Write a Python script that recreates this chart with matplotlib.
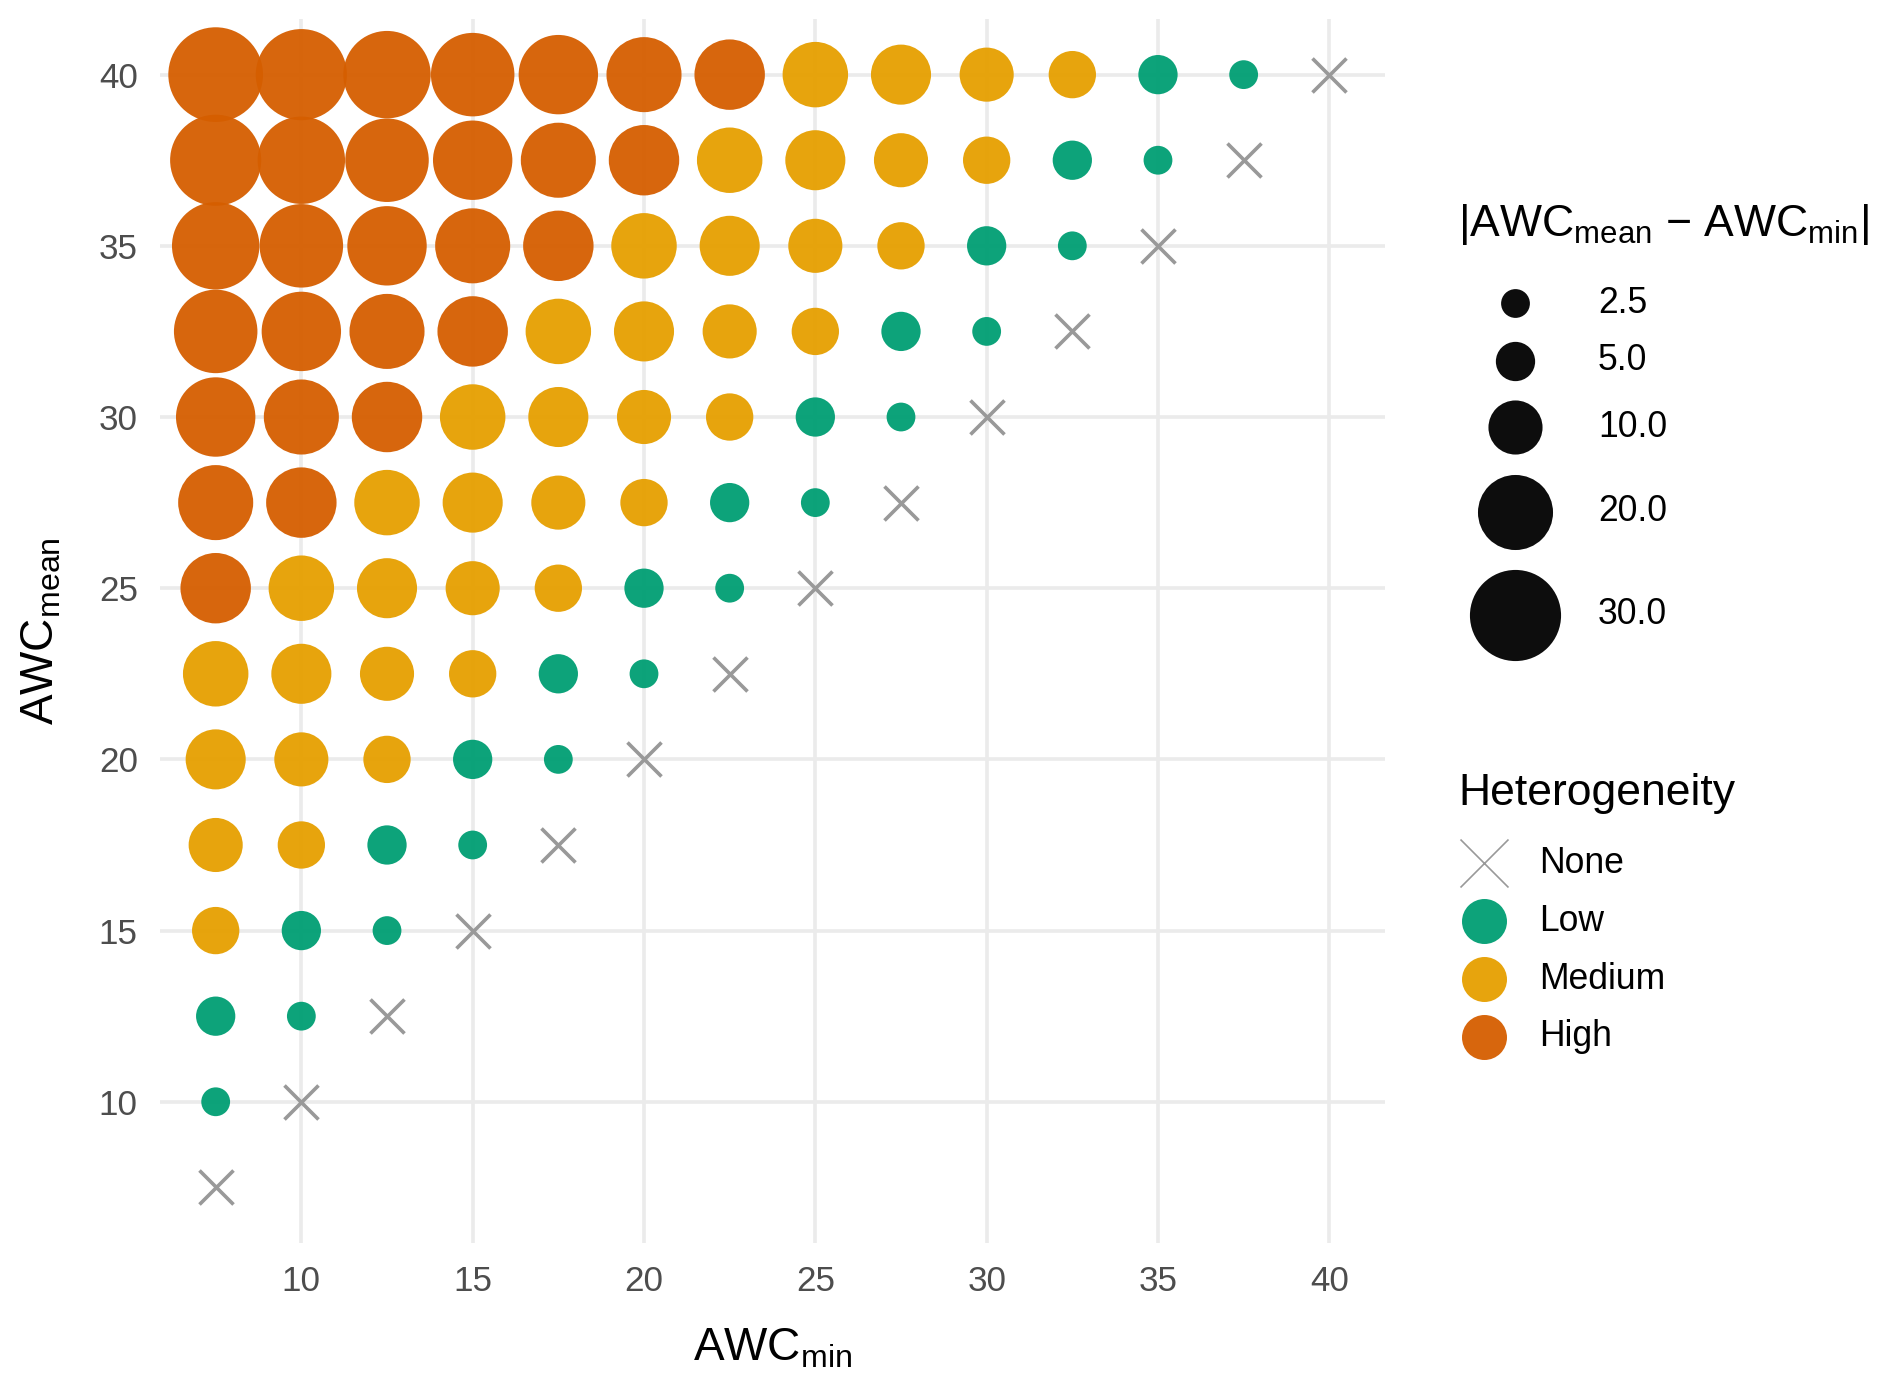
import numpy as np
import matplotlib
matplotlib.use("Agg")
from matplotlib import pyplot as plt

plt.rcParams['font.family'] = ['Liberation Sans', 'DejaVu Sans']
plt.rcParams['mathtext.fontset'] = 'custom'
plt.rcParams['mathtext.rm'] = 'Liberation Sans'
plt.rcParams['mathtext.it'] = 'Liberation Sans:italic'

# AWC levels used on both axes
awc_levels = [7.5, 10.0, 12.5, 15.0, 17.5, 20.0, 22.5, 25.0, 27.5, 30.0, 32.5, 35.0, 37.5, 40.0]
ticks = [10, 15, 20, 25, 30, 35, 40]
size_breaks = [2.5, 5.0, 10.0, 20.0, 30.0]
size_labels = ["2.5", "5.0", "10.0", "20.0", "30.0"]
het_levels = ["None", "Low", "Medium", "High"]
het_colors = {"None": "#999999", "Low": "#009E73", "Medium": "#E69F00", "High": "#D55E00"}

# every (min, mean) pair with mean >= min
awc_min = []
awc_mean = []
for m in awc_levels:
    for mn in awc_levels:
        if mn <= m:
            awc_min.append(mn)
            awc_mean.append(m)
awc_min = np.array(awc_min)
awc_mean = np.array(awc_mean)
diff = np.abs(awc_mean - awc_min)


def classify(d):
    if d == 0:
        return "None"
    if d <= 5:
        return "Low"
    if d <= 15:
        return "Medium"
    return "High"


het = np.array([classify(d) for d in diff])

DPI = 200
W, H = 1892, 1388


def diam_pt(v):
    # diameter in px, converted to points
    return (16.0 * np.sqrt(v) + 3.5) * 72 / DPI


fig = plt.figure(figsize=(W / DPI, H / DPI), dpi=DPI)
ax = fig.add_axes([160 / W, 1 - 1243 / H, (1385 - 160) / W, (1243 - 19) / H])

for lvl in ["Low", "Medium", "High"]:
    sel = het == lvl
    ax.scatter(awc_min[sel], awc_mean[sel], s=diam_pt(diff[sel]) ** 2, c=het_colors[lvl],
               alpha=0.95, linewidths=0, zorder=3)
sel = het == "None"
ax.scatter(awc_min[sel], awc_mean[sel], marker='x', s=(34 * 72 / DPI) ** 2,
           c=het_colors["None"], linewidths=1.3, zorder=3)

ax.set_xlim(5.875, 41.625)
ax.set_ylim(5.875, 41.625)
ax.set_xticks(ticks)
ax.set_yticks(ticks)
ax.grid(True, color='#EBEBEB', linewidth=1.3, zorder=0)
ax.set_axisbelow(True)
for s in ax.spines.values():
    s.set_visible(False)
ax.tick_params(length=0, labelsize=12.6, labelcolor='#4D4D4D', pad=8)

ax.set_xlabel(r'AWC$_{\mathrm{min}}$', fontsize=16.5, va='baseline')
ax.xaxis.set_label_coords(0.5, (1243 - 1360) / 1224)
ax.set_ylabel(r'AWC$_{\mathrm{mean}}$', fontsize=16.5, va='baseline')
ax.yaxis.set_label_coords((53 - 160) / 1225, 0.5)

# legends, placed in pixel coordinates
lg = fig.add_axes([0, 0, 1, 1], facecolor='none')
lg.set_xlim(0, W)
lg.set_ylim(H, 0)
lg.axis('off')

lg.text(1458, 236, r'|AWC$_{\mathrm{mean}}$ $-$ AWC$_{\mathrm{min}}$|', fontsize=16,
        va='baseline', ha='left')
d_px = [16.0 * np.sqrt(v) + 3.5 for v in size_breaks]
h_row = [max(d + 20, 56) for d in d_px]
yc = 303
for i, v in enumerate(size_breaks):
    if i > 0:
        yc += (h_row[i - 1] + h_row[i]) / 2
    lg.scatter([1515], [yc], s=diam_pt(v) ** 2, c='black', alpha=0.95, linewidths=0)
    lg.text(1598, yc, size_labels[i], fontsize=12.8, va='center', ha='left')

lg.text(1458, 805, 'Heterogeneity', fontsize=16, va='baseline', ha='left')
for i, lvl in enumerate(het_levels):
    yk = 863 + 58 * i
    if lvl == "None":
        lg.scatter([1484], [yk], marker='x', s=(48 * 72 / DPI) ** 2, c=het_colors[lvl],
                   linewidths=0.6)
    else:
        lg.scatter([1484], [yk], s=(45 * 72 / DPI) ** 2, c=het_colors[lvl], alpha=0.95,
                   linewidths=0)
    lg.text(1539, yk, lvl, fontsize=12.8, va='center', ha='left')

fig.savefig('out.png', dpi=DPI, facecolor='white')
